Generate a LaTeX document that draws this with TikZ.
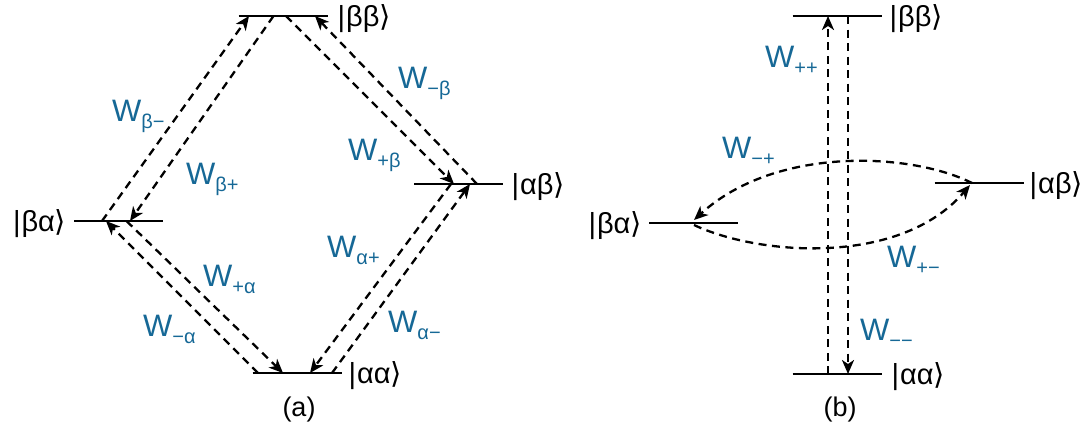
\documentclass[tikz,border=0pt]{standalone}
\usepackage{fontspec}
\setmainfont{Liberation Sans}
\newfontfamily\symf{DejaVu Sans}
\usetikzlibrary{arrows.meta,calc}
\definecolor{wblue}{RGB}{22,104,150}
\newcommand\ketx[1]{|\kern1pt#1{\symf\char"27E9}}
\newcommand\wlab[1]{W\raisebox{-7pt}{\fontsize{20}{20}\selectfont #1}}
\begin{document}
\begin{tikzpicture}[x=1pt,y=-1pt,
  level/.style={line width=2.8pt},
  trans/.style={line width=2.3pt, dash pattern=on 8pt off 5.5pt,
    -{Stealth[length=14pt,width=12pt,inset=4pt]}},
  ketlab/.style={font=\fontsize{29}{32}\selectfont, inner sep=0pt},
  rate/.style={font=\fontsize{31}{34}\selectfont, text=wblue, inner sep=0pt, anchor=base west},
  panelcap/.style={font=\fontsize{27}{30}\selectfont, inner sep=0pt}
]
\useasboundingbox (0,0) rectangle (1092,432);

% ---------- panel (a) ----------
\coordinate (abb) at (283,16);
\coordinate (aab) at (458.5,184);
\coordinate (aba) at (118.5,221);
\coordinate (aaa) at (297,373);
\foreach \c in {abb,aab,aba,aaa}
  \draw[level] ($(\c)+(-44.5,0)$) -- ($(\c)+(44.5,0)$);
\node[ketlab,anchor=base west] (kabb) at ($(abb)+(54.5,10)$) {\ketx{ββ}};
\node[ketlab,anchor=base west] (kaab) at ($(aab)+(53,10)$) {\ketx{αβ}};
\node[ketlab,anchor=base east] (kaba) at ($(aba)+(-52,10)$) {\ketx{βα}};
\node[ketlab,anchor=base west] (kaaa) at ($(aaa)+(51.5,10)$) {\ketx{αα}};
\node[panelcap] (capa) at (299,410) {(a)};

\draw[trans] ($(aba)+(-16.5,0)$) -- ($(abb)+(-34,0)$);
\draw[trans] ($(abb)+(-9.5,0)$) -- ($(aba)+(11.5,0)$);
\draw[trans] ($(aaa)+(-39,0)$) -- ($(aba)+(-12.5,0)$);
\draw[trans] ($(aba)+(8,0)$) -- ($(aaa)+(-14,0)$);
\draw[trans] ($(aab)+(-7.5,0)$) -- ($(aaa)+(13,0)$);
\draw[trans] ($(aaa)+(35,0)$) -- ($(aab)+(11.5,0)$);
\draw[trans] ($(abb)+(3,0)$) -- ($(aab)+(-4.5,0)$);
\draw[trans] ($(aab)+(18.5,0)$) -- ($(abb)+(32,0)$);

\node[rate] (wbm) at (112,121) {\wlab{β−}};
\node[rate] (wbp) at (186,184) {\wlab{β+}};
\node[rate] (wmb) at (398,88) {\wlab{−β}};
\node[rate] (wpb) at (348,160) {\wlab{+β}};
\node[rate] (wap) at (327,257) {\wlab{α+}};
\node[rate] (wpa) at (203,286) {\wlab{+α}};
\node[rate] (wma) at (143,336) {\wlab{−α}};
\node[rate] (wam) at (388,332) {\wlab{α−}};

% ---------- panel (b) ----------
\coordinate (bbb) at (837,16);
\coordinate (bab) at (979,183);
\coordinate (bba) at (693.5,223);
\coordinate (baa) at (837,374);
\foreach \c in {bbb,bab,bba,baa}
  \draw[level] ($(\c)+(-44.5,0)$) -- ($(\c)+(44.5,0)$);
\node[ketlab,anchor=base west] (kbbb) at ($(bbb)+(52.5,10)$) {\ketx{ββ}};
\node[ketlab,anchor=base west] (kbab) at ($(bab)+(50.5,10)$) {\ketx{αβ}};
\node[ketlab,anchor=base east] (kbba) at ($(bba)+(-51.5,10)$) {\ketx{βα}};
\node[ketlab,anchor=base west] (kbaa) at ($(baa)+(54.5,10)$) {\ketx{αα}};
\node[panelcap] (capb) at (840,410) {(b)};

\draw[trans] ($(baa)+(-9,0)$) -- ($(bbb)+(-9,0)$);
\draw[trans] ($(bbb)+(11,0)$) -- ($(baa)+(11,0)$);
\draw[trans] ($(bab)+(-7,0)$) .. controls (910,152) and (775,146) .. ($(bba)+(0.5,-3)$);
\draw[trans] ($(bba)+(0.5,2)$) .. controls (760,256) and (901,266) .. ($(bab)+(-9,2)$);

\node[rate] (wpp) at (765,67) {\wlab{++}};
\node[rate] (wmp) at (722,158) {\wlab{−+}};
\node[rate] (wpm) at (887,267) {\wlab{+−}};
\node[rate] (wmm) at (860,340) {\wlab{−−}};
\end{tikzpicture}
\end{document}
